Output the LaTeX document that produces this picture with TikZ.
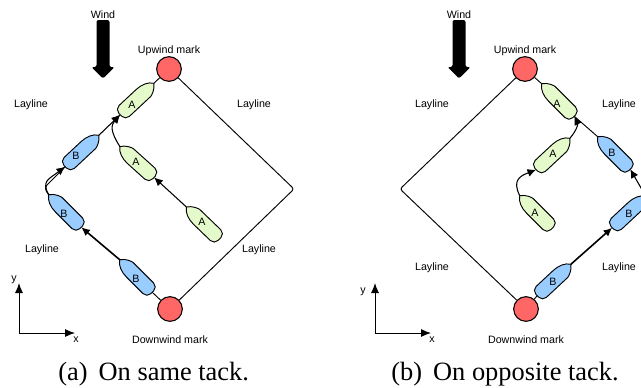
\documentclass[tikz,border=0pt]{standalone}
\usepackage{fontspec}
\setmainfont{Liberation Sans}
\newfontfamily\captionfont{Liberation Serif}
\usetikzlibrary{arrows.meta}
\definecolor{boatgreen}{RGB}{228,250,202}
\definecolor{boatblue}{RGB}{153,204,255}
\definecolor{markred}{RGB}{255,102,102}
\tikzset{
  txt/.style={font=\fontsize{8}{9.6}\selectfont,inner sep=0pt,yshift=-1pt},
  capt/.style={font=\captionfont\fontsize{19.8}{24}\selectfont,inner sep=0pt,anchor=base west},
  buoy/.style={circle,draw,fill=markred,line width=0.8pt,minimum size=18.5pt,inner sep=0pt},
  rumo/.style={line width=0.7pt},
  seta/.style={line width=0.8pt,-{Latex[length=6.5pt,width=6pt]}},
  setag/.style={line width=1.2pt,-{Latex[length=6.5pt,width=6pt]}},
  eixo/.style={line width=0.7pt,-{Latex[length=7.5pt,width=6pt]}},
  pics/boat/.style={code={
    \draw[line width=0.7pt,fill=#1,rounded corners=4.2pt] (6,-7.5) -- (-23,-7.5) -- (-23,7.5) -- (6,7.5)
      [sharp corners] .. controls (13,7.5) and (20,5) .. (23,0) .. controls (20,-5) and (13,-7.5) .. (6,-7.5) -- cycle;
    \coordinate (-bow) at (23,0);
    \coordinate (-stern) at (-23,0);
  }}
}
\begin{document}
\begin{tikzpicture}[x=0.75pt,y=-0.75pt]
    \useasboundingbox (0,0) rectangle (641,387);
    \clip (0,0) rectangle (641,387);

    % Vento
    \foreach \nome/\wx in {a/103,b/459}{
      \fill[rounded corners=1.5pt] (\wx-6.5,20) -- (\wx+6.5,20) -- (\wx+6.5,67) -- (\wx+11.5,67)
        -- (\wx,78.5) -- (\wx-11.5,67) -- (\wx-6.5,67) -- cycle;
      \node[txt] (wind\nome) at (\wx,13) {Wind};
    }

    % Marcas da figura (a)
    \node[buoy] (upa) at (169,69) {};
    \node[buoy] (downa) at (170,309) {};
    \node[txt] (uplabela) at (169,49) {Upwind mark};
    \node[txt] (downlabela) at (170,338) {Downwind mark};
    \coordinate (cornera) at (294,189);
    \coordinate (turna) at (44,188);

    % Barcos da figura (a)
    \pic (a1) at (137,99) [rotate=43] {boat=boatgreen};
    \pic (a2) at (137,162) [rotate=138] {boat=boatgreen};
    \pic (a3) at (203,223) [rotate=136] {boat=boatgreen};
    \pic (b1) at (82,151) [rotate=43] {boat=boatblue};
    \pic (b2) at (65,211) [rotate=135] {boat=boatblue};
    \pic (b3) at (136,276) [rotate=135] {boat=boatblue};
    \node[txt] (a1label) at (132,103) {A};
    \node[txt] (a2label) at (136,160) {A};
    \node[txt] (a3label) at (202,220) {A};
    \node[txt] (b1label) at (76,154) {B};
    \node[txt] (b2label) at (64,212) {B};
    \node[txt] (b3label) at (136,277) {B};

    % Laylines e rotas da figura (a)
    \draw[rumo,rounded corners=2pt] (upa) -- (cornera) -- (downa);
    \draw[rumo] (a1-bow) -- (upa);
    \draw[rumo] (b3-stern) -- (downa);
    \draw[seta] (b1-bow) -- (a1-stern);
    \draw[seta] (a2-bow) .. controls (110,131) and (111,125) .. (a1-stern);
    \draw[seta] (a3-bow) -- (a2-stern);
    \draw[setag] (b3-bow) -- (b2-stern);
    \draw[rumo,rounded corners=3pt] (b2-bow) -- (turna) -- (b1-stern);
    \draw[seta] (b2-bow) .. controls (41,181) and (49,179) .. (b1-stern);

    % Textos da figura (a)
    \node[txt] (la1) at (31,103) {Layline};
    \node[txt] (la2) at (254,103) {Layline};
    \node[txt] (la3) at (42,248) {Layline};
    \node[txt] (la4) at (259,248) {Layline};

    % Marcas da figura (b)
    \node[buoy] (upb) at (525,69) {};
    \node[buoy] (downb) at (526,309) {};
    \node[txt] (uplabelb) at (525,49) {Upwind mark};
    \node[txt] (downlabelb) at (526,338) {Downwind mark};
    \coordinate (cornerb) at (400,189);

    % Barcos da figura (b)
    \pic (c1) at (558,100) [rotate=135] {boat=boatgreen};
    \pic (c2) at (553,154) [rotate=43] {boat=boatgreen};
    \pic (c3) at (536,212) [rotate=135] {boat=boatgreen};
    \pic (d1) at (614,153) [rotate=135] {boat=boatblue};
    \pic (d2) at (629,212) [rotate=43] {boat=boatblue};
    \pic (d3) at (554,280) [rotate=43] {boat=boatblue};
    \node[txt] (c1label) at (557,102) {A};
    \node[txt] (c2label) at (553,152) {A};
    \node[txt] (c3label) at (535,211) {A};
    \node[txt] (d1label) at (612,151) {B};
    \node[txt] (d2label) at (629,212) {B};
    \node[txt] (d3label) at (553,280) {B};

    % Laylines e rotas da figura (b)
    \draw[rumo,rounded corners=2pt] (upb) -- (cornerb) -- (downb);
    \draw[rumo] (c1-bow) -- (upb);
    \draw[rumo] (d3-stern) -- (downb);
    \draw[rumo] (d1-bow) -- (c1-stern);
    \draw[seta] (c2-bow) .. controls (577,130) and (578,124) .. (c1-stern);
    \draw[seta] (c3-bow) .. controls (512,180) and (520,176) .. (c2-stern);
    \draw[seta] (d2-bow) -- (d1-stern);
    \draw[setag] (d3-bow) -- (d2-stern);

    % Textos da figura (b)
    \node[txt] (lb1) at (432,103) {Layline};
    \node[txt] (lb2) at (619,103) {Layline};
    \node[txt] (lb3) at (432,266) {Layline};
    \node[txt] (lb4) at (619,266) {Layline};

    % Eixos
    \coordinate (oa) at (19,333);
    \coordinate (xa) at (75,333);
    \coordinate (ya) at (19,283);
    \coordinate (ob) at (375,333);
    \coordinate (xb) at (431,333);
    \coordinate (yb) at (375,283);
    \draw[eixo] (oa) -- (xa);
    \draw[eixo] (oa) -- (ya);
    \draw[eixo] (ob) -- (xb);
    \draw[eixo] (ob) -- (yb);
    \node[txt] (xlabela) at (76,338) {x};
    \node[txt] (ylabela) at (14,278) {y};
    \node[txt] (xlabelb) at (432,338) {x};
    \node[txt] (ylabelb) at (363,290) {y};

    % Legendas
    \node[capt] (capa) at (58,380) {(a)\hspace{0.42em}On same tack.};
    \node[capt] (capb) at (391,380) {(b)\hspace{0.42em}On opposite tack.};
  \end{tikzpicture}
\end{document}
